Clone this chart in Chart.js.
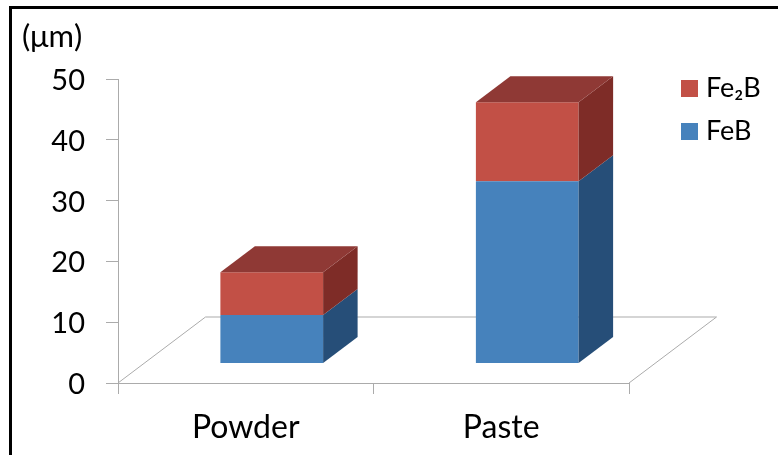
<!DOCTYPE html>
<html>
<head>
<meta charset="utf-8">
<title>Layer thickness</title>
<script src="https://cdn.jsdelivr.net/npm/chart.js@4"></script>
<style>
    html, body { margin: 0; padding: 0; background: #fff; }
    #wrap { position: relative; width: 778px; height: 455px; overflow: hidden; }
    #frame { position: absolute; left: 9px; top: 6px; right: -5px; bottom: -5px; border: 3px solid #000; pointer-events: none; }
    canvas { display: block; }
</style>
</head>
<body>
<div id="wrap">
    <canvas id="thicknessChart" width="778" height="455"></canvas>
    <div id="frame"></div>
</div>
<script>
const categories = ['Powder', 'Paste'];
const feBValues = [8, 30];
const fe2BValues = [7, 13];
const yTicks = [0, 10, 20, 30, 40, 50];

// pseudo 3d offsets, px
const barDepthX = 34.5;
const barDepthY = 26;
const floorDepthX = 87.5;
const floorDepthY = 66;
const barShiftX = 26;
const barShiftY = -19.5;

const axisColor = '#ababab';
const fontName = 'Lato, "Open Sans", sans-serif';

function fillPoly(ctx, pts, color) {
    ctx.fillStyle = color;
    ctx.beginPath();
    pts.forEach((p, i) => i ? ctx.lineTo(p[0], p[1]) : ctx.moveTo(p[0], p[1]));
    ctx.closePath();
    ctx.fill();
}

const fake3d = {
    id: 'fake3d',
    beforeDraw(chart) {
        // legend sits right of the floor at a fixed spot
        const pad = chart.legend.options.labels.padding;
        chart.legend.left = 686.5 - pad;
        chart.legend.top = 75 - pad;
        chart.legend.right = chart.width;
        chart.legend.bottom = 220;
    },
    beforeDatasetsDraw(chart) {
        const ctx = chart.ctx;
        const { left, right, bottom } = chart.chartArea;

        // floor outline
        ctx.save();
        ctx.strokeStyle = axisColor;
        ctx.lineWidth = 1;
        ctx.beginPath();
        ctx.moveTo(left, bottom);
        ctx.lineTo(left + floorDepthX, bottom - floorDepthY);
        ctx.lineTo(right + floorDepthX, bottom - floorDepthY);
        ctx.lineTo(right, bottom);
        ctx.stroke();
        ctx.restore();

        // the bars stand in the middle of the floor
        ctx.save();
        ctx.translate(barShiftX, barShiftY);
    },
    afterDatasetsDraw(chart) {
        const ctx = chart.ctx;
        chart.data.datasets.forEach((ds, d) => {
            chart.getDatasetMeta(d).data.forEach(bar => {
                const r = bar.x + bar.width / 2;
                const l = bar.x - bar.width / 2;
                fillPoly(ctx, [[r, bar.y], [r + barDepthX, bar.y - barDepthY], [r + barDepthX, bar.base - barDepthY], [r, bar.base]], ds.sideColor);
                if (d === chart.data.datasets.length - 1) {
                    fillPoly(ctx, [[l, bar.y], [l + barDepthX, bar.y - barDepthY], [r + barDepthX, bar.y - barDepthY], [r, bar.y]], ds.topColor);
                }
            });
        });
        ctx.restore();
    }
};

const ctx = document.getElementById('thicknessChart').getContext('2d');
const thicknessChart = new Chart(ctx, {
    type: 'bar',
    data: {
        labels: categories,
        datasets: [{
            label: 'FeB',
            data: feBValues,
            backgroundColor: '#4682bc',
            sideColor: '#264e78',
            topColor: '#2f5f8f'
        }, {
            label: 'Fe₂B',
            data: fe2BValues,
            backgroundColor: '#c25046',
            sideColor: '#7e2c27',
            topColor: '#8f3935'
        }]
    },
    options: {
        responsive: false,
        animation: false,
        layout: { padding: { left: 22, right: 89, top: 18, bottom: 0 } },
        datasets: { bar: { categoryPercentage: 0.402, barPercentage: 1 } },
        plugins: {
            title: {
                display: true,
                text: '(μm)',
                align: 'start',
                color: '#000',
                font: { family: fontName, size: 31, weight: 'normal' },
                padding: { top: 0, bottom: 24 }
            },
            legend: {
                position: 'right',
                align: 'start',
                reverse: true,
                maxWidth: 60,
                labels: {
                    color: '#000',
                    // small box + thick stroke keeps the text close to the swatch
                    boxWidth: 6,
                    boxHeight: 6,
                    padding: 16,
                    font: { family: fontName, size: 27 },
                    generateLabels(chart) {
                        const items = Chart.defaults.plugins.legend.labels.generateLabels(chart);
                        items.forEach(item => {
                            item.lineWidth = 11;
                            item.strokeStyle = item.fillStyle;
                        });
                        return items;
                    }
                }
            },
            tooltip: { enabled: false }
        },
        scales: {
            x: {
                stacked: true,
                afterFit(scale) { scale.height = 72; },
                border: { color: axisColor },
                grid: { drawOnChartArea: false, color: axisColor, tickLength: 11 },
                ticks: { color: '#000', padding: 14, maxRotation: 0, font: { family: fontName, size: 32 } }
            },
            y: {
                stacked: true,
                min: 0,
                max: 50,
                afterFit(scale) { scale.width = 96; },
                afterBuildTicks(scale) { scale.ticks = yTicks.map(v => ({ value: v })); },
                border: { color: axisColor },
                grid: { drawOnChartArea: false, color: axisColor, tickLength: 12 },
                ticks: { color: '#000', padding: 21, labelOffset: 1.5, font: { family: fontName, size: 29 } }
            }
        }
    },
    plugins: [fake3d]
});
</script>
</body>
</html>
